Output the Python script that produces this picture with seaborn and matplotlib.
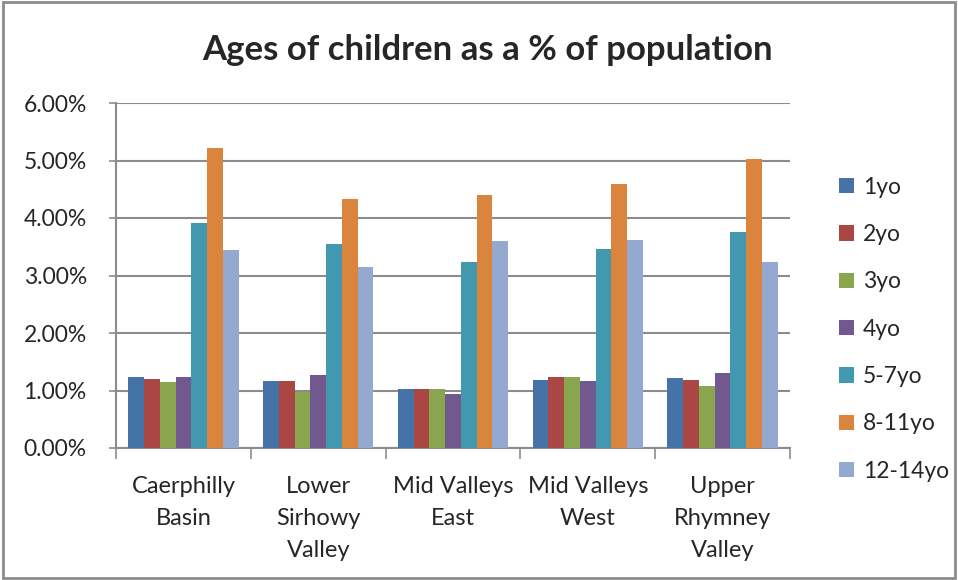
import pandas as pd
import seaborn as sns
import matplotlib.pyplot as plt
from matplotlib.ticker import PercentFormatter, FixedLocator
from matplotlib.patches import Rectangle

# values (fraction of population)
areas = ["Caerphilly\nBasin", "Lower\nSirhowy\nValley", "Mid Valleys\nEast",
         "Mid Valleys\nWest", "Upper\nRhymney\nValley"]
age_groups = ["1yo", "2yo", "3yo", "4yo", "5-7yo", "8-11yo", "12-14yo"]

age_1 = [0.01235, 0.01165, 0.01030, 0.01190, 0.01212]
age_2 = [0.01206, 0.01165, 0.01030, 0.01235, 0.01188]
age_3 = [0.01142, 0.00975, 0.01030, 0.01235, 0.01078]
age_4 = [0.01235, 0.01275, 0.00945, 0.01165, 0.01300]
age_5_7 = [0.03913, 0.03554, 0.03241, 0.03461, 0.03757]
age_8_11 = [0.05223, 0.04336, 0.04400, 0.04597, 0.05026]
age_12_14 = [0.03443, 0.03148, 0.03600, 0.03617, 0.03241]

palette = ["#4572A7", "#AA4643", "#89A54E", "#71588F", "#4198AF", "#DB843D", "#93A9CF"]

series = [age_1, age_2, age_3, age_4, age_5_7, age_8_11, age_12_14]
rows = []
for group, vals in zip(age_groups, series):
    for area, v in zip(areas, vals):
        rows.append({"area": area, "age": group, "share": v})
df = pd.DataFrame(rows)

sns.set_style("white")
plt.rcParams["font.family"] = ["Lato", "DejaVu Sans"]

fig = plt.figure(figsize=(9.58, 5.8), dpi=100)
ax = fig.add_axes([116 / 958, 1 - 448 / 580, 674 / 958, 345 / 580])

sns.barplot(data=df, x="area", y="share", hue="age", hue_order=age_groups,
            order=areas, palette=palette, width=0.82, saturation=1,
            ax=ax, zorder=3)

grid_c = "#8c8c8c"
ax.set_ylim(0, 0.06)
ax.set_xlim(-0.5, len(areas) - 0.5)
ax.set_yticks([i / 100 for i in range(7)])
ax.yaxis.set_major_formatter(PercentFormatter(1, decimals=2))
ax.yaxis.grid(True, color=grid_c, linewidth=1.5, zorder=0)
ax.set_axisbelow(True)
ax.tick_params(axis="y", labelsize=16.5, length=5, color=grid_c, width=1.2, pad=16,
               left=True)
ax.tick_params(axis="x", which="major", labelsize=17, length=0, pad=20)
ax.xaxis.set_minor_locator(FixedLocator([i - 0.5 for i in range(len(areas) + 1)]))
ax.tick_params(axis="x", which="minor", length=8, color=grid_c, width=1.2, bottom=True)
for lab in ax.get_xticklabels():
    lab.set_linespacing(1.65)
ax.set_xlabel("")
ax.set_ylabel("")
for side in ["top", "right"]:
    ax.spines[side].set_visible(False)
for side in ["left", "bottom"]:
    ax.spines[side].set_color(grid_c)
    ax.spines[side].set_linewidth(1.5)

for p in ax.patches:
    p.set_edgecolor("none")

ax.legend_.remove()
handles, labels = ax.get_legend_handles_labels()
fig.legend(handles, labels, loc="upper left", bbox_to_anchor=(818 / 958, 1 - 156 / 580),
           frameon=False, fontsize=16.5, handlelength=0.65, handleheight=0.65,
           handletextpad=0.4, labelspacing=1.15)

fig.suptitle("Ages of children as a % of population", x=487 / 958, y=1 - 34 / 580,
             fontsize=25, fontweight="bold", va="top")

fig.add_artist(Rectangle((0.003, 0.003), 0.994, 0.994, transform=fig.transFigure,
                         fill=False, edgecolor="#8c8c8c", linewidth=2))

fig.savefig("out.png", dpi=100)
